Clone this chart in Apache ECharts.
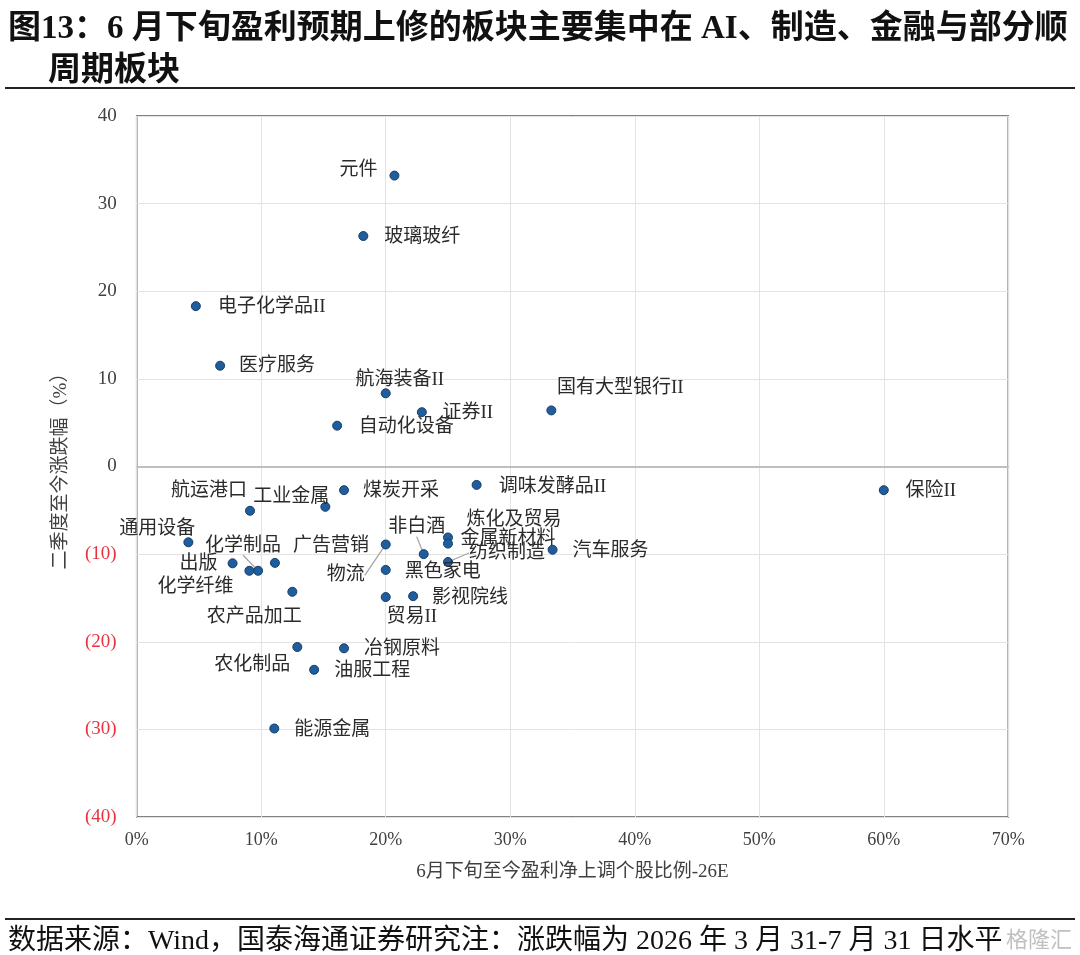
<!DOCTYPE html>
<html><head><meta charset="utf-8">
<script src="https://cdn.jsdelivr.net/npm/echarts@6/dist/echarts.min.js"></script>
<style>html,body{margin:0;padding:0;background:#fff}#c{width:1080px;height:955px}</style>
</head><body><div id="c"></div><script>
// ---- data ----
const names = ['元件','玻璃玻纤','电子化学品II','医疗服务','航海装备II','证券II','国有大型银行II','自动化设备','保险II',
  '航运港口','工业金属','煤炭开采','调味发酵品II','通用设备','化学制品','出版','化学纤维','广告营销','农产品加工',
  '物流','黑色家电','非白酒','炼化及贸易','金属新材料','纺织制造','汽车服务','贸易II','影视院线',
  '冶钢原料','农化制品','油服工程','能源金属'];
const xValues = [20.7,18.2,4.75,6.7,20.0,22.9,33.3,16.1,60.0,
  9.1,15.15,16.65,27.3,4.15,9.75,7.7,9.05,11.1,12.5,
  20.0,20.0,23.05,25.0,25.0,25.0,33.4,20.0,22.2,
  16.65,12.9,14.25,11.05];
const yValues = [33.2,26.3,18.3,11.5,8.35,6.2,6.4,4.66,-2.7,
  -5.05,-4.6,-2.7,-2.1,-8.65,-11.9,-11.05,-11.9,-11.0,-14.3,
  -8.9,-11.8,-10.0,-8.1,-8.8,-10.9,-9.5,-14.9,-14.8,
  -20.75,-20.6,-23.2,-29.9];
const xTickValues = [0,10,20,30,40,50,60,70];
const yTickValues = [-40,-30,-20,-10,0,10,20,30,40];

// ---- label layout (pixel offsets of label centre from point) ----
const labelOffsets = {
  '元件':[-36,-6],'玻璃玻纤':[59,1],'电子化学品II':[76,1],'医疗服务':[57,0],'航海装备II':[14,-13],
  '证券II':[46,1],'国有大型银行II':[69,-22],'自动化设备':[69,1],'保险II':[47,1],'航运港口':[-41,-20],
  '工业金属':[-34,-10],'煤炭开采':[57,1],'调味发酵品II':[76,2],'通用设备':[-31,-13],'化学制品':[-15,-25],
  '出版':[-34,1],'化学纤维':[-54,16],'广告营销':[56,-17],'农产品加工':[-38,25],'物流':[-40,31],
  '黑色家电':[57,2],'非白酒':[-7,-27],'炼化及贸易':[66,-17],'金属新材料':[60,-5],'纺织制造':[59,-9],
  '汽车服务':[58,1],'贸易II':[26,20],'影视院线':[57,2],'冶钢原料':[58,1],'农化制品':[-45,18],
  '油服工程':[58,1],'能源金属':[58,2]
};
const leaderNames = ['化学制品','物流','非白酒','纺织制造'];

const FONT = '"Liberation Serif", "Noto Sans CJK SC", serif';
const scatterData = names.map((n, i) => {
  const item = { name: n, value: [xValues[i], yValues[i]] };
  if (leaderNames.indexOf(n) >= 0) item.labelLine = { show: true, lineStyle: { color: '#a6a6a6', width: 1.3 } };
  return item;
});

const chart = echarts.init(document.getElementById('c'));
chart.setOption({
  animation: false,
  backgroundColor: '#fff',
  grid: { left: 136.7, right: 71.7, top: 116, bottom: 138, show: true, borderColor: '#595959', borderWidth: 1.5, backgroundColor: 'transparent' },
  xAxis: {
    type: 'value', min: xTickValues[0], max: xTickValues[xTickValues.length - 1], interval: 10,
    name: '6月下旬至今盈利净上调个股比例-26E', nameLocation: 'middle', nameGap: 46,
    nameTextStyle: { fontFamily: FONT, fontSize: 19, color: '#404040' },
    axisLine: { show: false }, axisTick: { show: false },
    axisLabel: { formatter: v => v + '%', fontFamily: FONT, fontSize: 18, color: '#404040', margin: 14 },
    splitLine: { show: true, lineStyle: { color: '#e3e3e3', width: 1 } }
  },
  yAxis: {
    type: 'value', min: yTickValues[0], max: yTickValues[yTickValues.length - 1], interval: 10,
    name: '二季度至今涨跌幅（%）', nameLocation: 'middle', nameGap: 66, nameRotate: 90,
    nameTextStyle: { fontFamily: FONT, fontSize: 19, color: '#404040' },
    axisLine: { show: false }, axisTick: { show: false },
    axisLabel: {
      formatter: v => v < 0 ? '(' + (-v) + ')' : String(v),
      color: v => (v < 0 ? '#e8333b' : '#404040'),
      fontFamily: FONT, fontSize: 19, margin: 20
    },
    splitLine: { show: true, lineStyle: { color: '#e3e3e3', width: 1 } }
  },
  series: [{
    type: 'scatter',
    data: scatterData,
    symbol: 'circle', symbolSize: 9,
    itemStyle: { color: '#1f5d9c', borderColor: '#163f6a', borderWidth: 1, opacity: 1 },
    label: {
      show: true, position: 'inside', formatter: p => p.name,
      fontFamily: FONT, fontSize: 19, color: '#2b2b2b', align: 'center', verticalAlign: 'middle'
    },
    labelLine: { show: false },
    labelLayout: p => { const o = labelOffsets[names[p.dataIndex]]; return { dx: o[0], dy: o[1] }; },
    markLine: {
      silent: true, symbol: 'none', label: { show: false },
      lineStyle: { color: '#bfbfbf', width: 2, type: 'solid' },
      data: [{ yAxis: 0 }]
    },
    z: 5
  }],
  graphic: [
    { type: 'text', left: 8, top: 13, style: { text: '图13：6 月下旬盈利预期上修的板块主要集中在 AI、制造、金融与部分顺', fontFamily: FONT, fontSize: 33, fontWeight: 'bold', fill: '#111' } },
    { type: 'text', left: 48, top: 55, style: { text: '周期板块', fontFamily: FONT, fontSize: 33, fontWeight: 'bold', fill: '#111' } },
    { type: 'rect', shape: { x: 5, y: 87, width: 1070, height: 2 }, style: { fill: '#222' } },
    { type: 'rect', shape: { x: 5, y: 918, width: 1070, height: 2 }, style: { fill: '#222' } },
    { type: 'text', left: 8, top: 928, style: { text: '数据来源：Wind，国泰海通证券研究注：涨跌幅为 2026 年 3 月 31-7 月 31 日水平', fontFamily: FONT, fontSize: 28, fill: '#111' } },
    { type: 'text', right: 8, top: 930, style: { text: '格隆汇', fontFamily: FONT, fontSize: 22, fill: 'rgba(150,150,150,0.6)' } }
  ]
});
</script></body></html>
